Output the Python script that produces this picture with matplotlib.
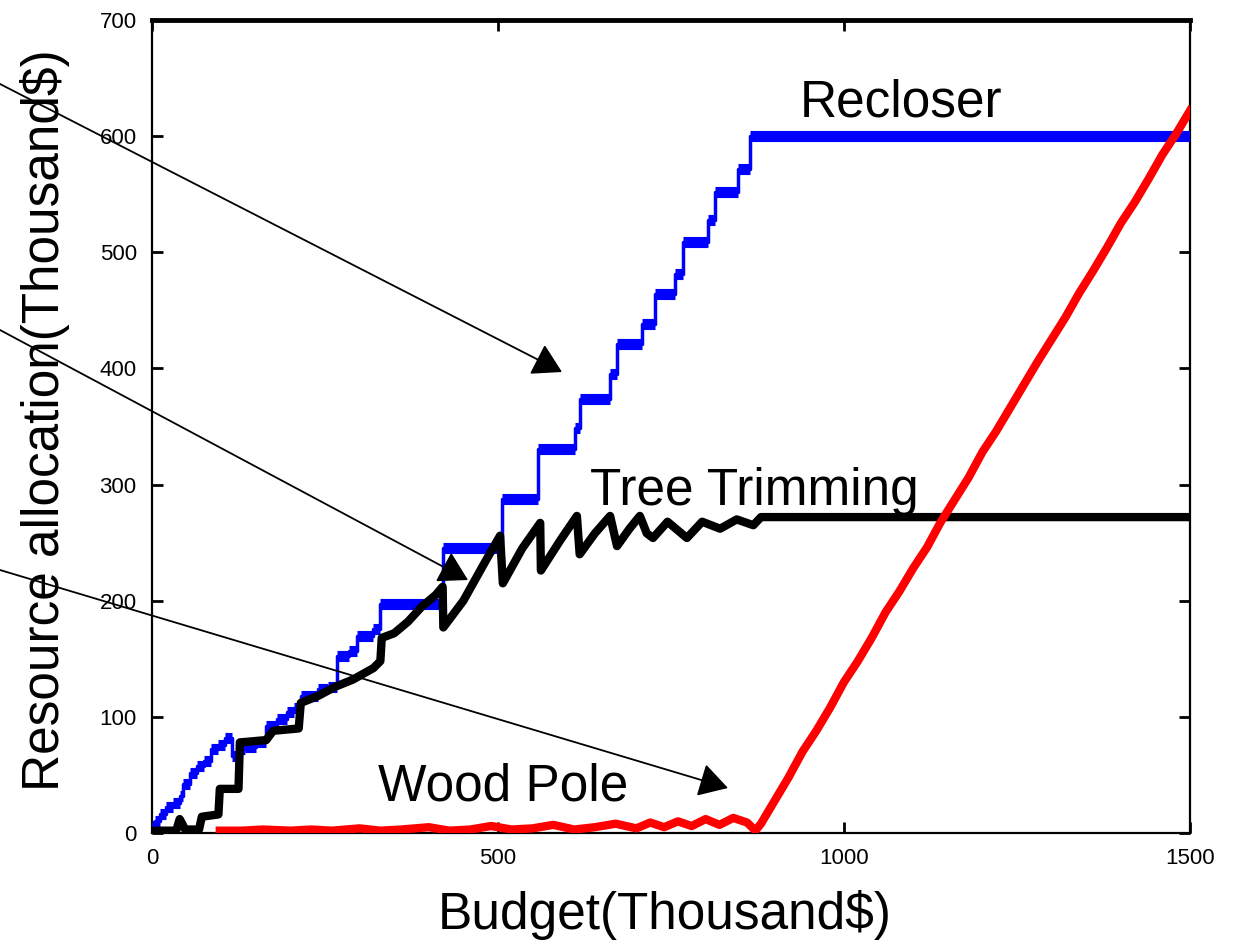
import matplotlib
matplotlib.use("Agg")
import matplotlib.pyplot as plt
from matplotlib import font_manager
import numpy as np

# ---------------- data ----------------
# Recloser (blue) : step breakpoints (budget, allocation)
recloser_x = [0, 5, 12, 20, 30, 40, 45, 55, 65, 75, 85, 95, 105, 115, 125, 135, 150,
              165, 180, 195, 205, 215, 240, 255, 267, 285, 296, 320, 329, 421, 506,
              558, 611, 618, 662, 672, 708, 727, 756, 767, 803, 813, 847, 864, 1500]
recloser_y = [6, 10, 16, 22, 26, 32, 42, 52, 58, 62, 72, 76, 82, 66, 72, 74, 78,
              92, 98, 104, 108, 118, 124, 126, 152, 157, 170, 176, 197, 245, 288,
              331, 349, 374, 395, 421, 438, 464, 481, 509, 528, 552, 572, 600, 600]

# Tree Trimming (black)
tree_x = [0, 35, 40, 48, 68, 72, 96, 98, 125, 127, 165, 175, 212, 215, 240, 265, 290,
          320, 330, 332, 350, 370, 390, 410, 420, 421, 450, 480, 503, 507, 535, 561,
          562, 590, 614, 618, 640, 662, 672, 690, 705, 715, 724, 745, 773, 795, 821,
          845, 869, 880, 1500]
tree_y = [2, 2, 12, 3, 3, 14, 16, 38, 38, 78, 80, 88, 90, 112, 118, 126, 132,
          142, 148, 168, 172, 182, 195, 205, 212, 177, 200, 232, 256, 215, 245, 267,
          226, 252, 273, 240, 258, 273, 247, 262, 273, 258, 254, 268, 254, 268, 262,
          270, 265, 272, 272]

# Wood Pole (red)
wood_x = [98, 130, 160, 200, 230, 260, 300, 330, 360, 400, 430, 460, 490, 520, 550,
          580, 610, 640, 670, 700, 720, 740, 760, 780, 800, 820, 840, 860, 872,
          880, 900, 920, 940, 960, 980, 1000, 1020, 1040, 1060, 1080, 1100, 1120,
          1140, 1160, 1180, 1200, 1220, 1240, 1260, 1280, 1300, 1320, 1340, 1360,
          1380, 1400, 1420, 1440, 1460, 1480, 1500]
wood_y = [2, 2, 3, 2, 3, 2, 4, 2, 3, 5, 2, 3, 6, 3, 4, 7, 3, 5, 8, 4, 9, 5, 10, 6,
          12, 7, 13, 9, 2,
          8, 28, 48, 70, 88, 108, 130, 148, 168, 190, 208, 228, 246,
          268, 287, 306, 328, 346, 366, 386, 406, 425, 444, 465, 484,
          504, 525, 543, 563, 584, 602, 622]

x_ticks = [0, 500, 1000, 1500]
y_ticks = [0, 100, 200, 300, 400, 500, 600, 700]

labels = {"Recloser": (936, 617), "Tree Trimming": (633, 282), "Wood Pole": (327, 28)}

# ---------------- figure ----------------
names = {f.name for f in font_manager.fontManager.ttflist}
cands = [n for n in ['DejaVu Sans Condensed', 'Liberation Sans Narrow', 'Liberation Sans'] if n in names]
fam = cands + ['DejaVu Sans']
plt.rcParams['font.family'] = fam
condensed = fam[0] in ('DejaVu Sans Condensed', 'Liberation Sans Narrow')
k = 1.08 if condensed else 1.0

fig = plt.figure(figsize=(12.4, 9.43), dpi=100)
ax = fig.add_axes([152/1240, 1-833/943, (1190-152)/1240, (833-20)/943])

# recloser: thin verticals + thick horizontals
ax.step(recloser_x, recloser_y, where='post', color='#0000ff', lw=2.5, zorder=3)
ax.hlines(recloser_y[:-1], recloser_x[:-1], recloser_x[1:], color='#0000ff', lw=8, zorder=3)

ax.plot(tree_x, tree_y, color='black', lw=6, solid_capstyle='butt', zorder=4)
ax.plot(wood_x, wood_y, color='#ff0000', lw=6, zorder=5)

ax.set_xlim(0, 1500)
ax.set_ylim(0, 700)
ax.set_xticks(x_ticks)
ax.set_yticks(y_ticks)
ax.tick_params(direction='in', length=8, width=2, top=True, right=True,
               labelsize=16, pad=11)
for s in ['left', 'right', 'bottom']:
    ax.spines[s].set_linewidth(1.6)
ax.spines['top'].set_linewidth(3.5)

fig.text(665/1240, 1-915/943, "Budget(Thousand$)", ha='center', va='center', fontsize=37*k)
fig.text(45/1240, 1-420/943, "Resource allocation(Thousand$)", ha='center', va='center',
         rotation=90, fontsize=37*k)

for txt, (bx, by) in labels.items():
    ax.text(bx, by, txt, fontsize=37*k, ha='left', va='baseline', zorder=6)

arrow_kw = dict(arrowstyle='-|>,head_length=0.6,head_width=0.35', color='black',
                lw=1.3, mutation_scale=30, shrinkA=0, shrinkB=0)
for (x0, y0), (x1, y1) in [((0, 84), (562, 372)), ((0, 330), (468, 580)), ((0, 570), (728, 788))]:
    ax.annotate('', xy=(x1/1240, 1-y1/943), xycoords='figure fraction',
                xytext=(x0/1240, 1-y0/943), textcoords='figure fraction',
                arrowprops=arrow_kw, annotation_clip=False, zorder=10)

fig.savefig('out.png', dpi=100)
